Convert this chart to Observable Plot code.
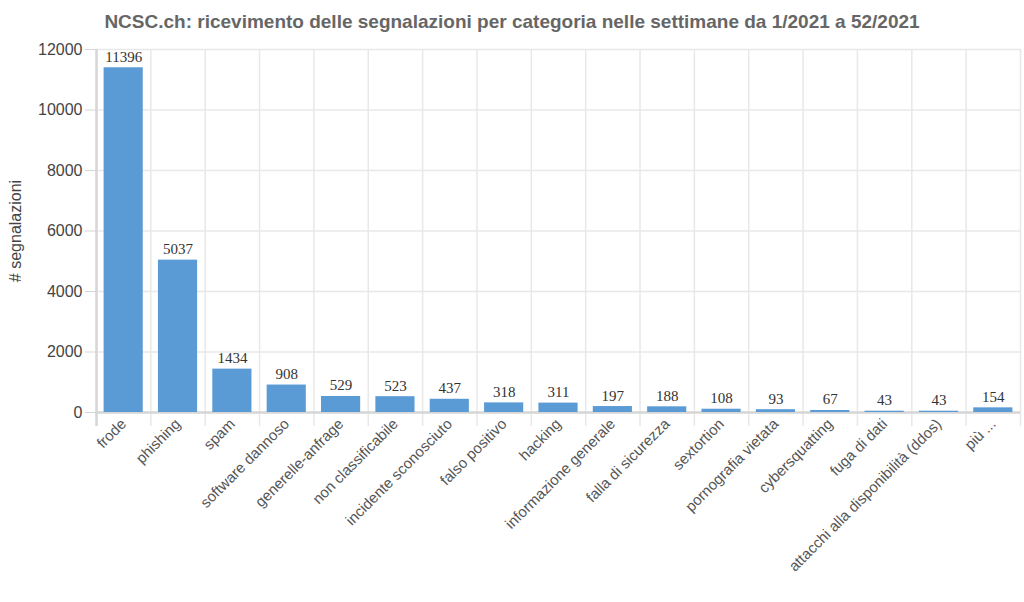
<!DOCTYPE html>
<html>
<head>
<meta charset="utf-8">
<script src="https://cdn.jsdelivr.net/npm/d3@7"></script>
<script src="https://cdn.jsdelivr.net/npm/@observablehq/plot@0.6"></script>
<style>
  html, body { margin: 0; padding: 0; background: #fff; }
  #title { height: 40px; padding-top: 4px; line-height: 36px; text-align: center; font-family: "Liberation Sans", Arial, sans-serif; font-weight: bold; font-size: 19px; color: #666; box-sizing: border-box; width: 1024px; }
</style>
</head>
<body>
<div id="title">NCSC.ch: ricevimento delle segnalazioni per categoria nelle settimane da 1/2021 a 52/2021</div>
<div id="chart"></div>
<script>
const categories = [
  "frode", "phishing", "spam", "software dannoso", "generelle-anfrage",
  "non classificabile", "incidente sconosciuto", "falso positivo", "hacking",
  "informazione generale", "falla di sicurezza", "sextortion",
  "pornografia vietata", "cybersquatting", "fuga di dati",
  "attacchi alla disponibilità (ddos)", "più ..."
];
const values = [11396, 5037, 1434, 908, 529, 523, 437, 318, 311, 197, 188, 108, 93, 67, 43, 43, 154];
const yTicks = [0, 2000, 4000, 6000, 8000, 10000, 12000];
const yLabel = "# segnalazioni";

const data = categories.map((c, i) => ({category: c, value: values[i]}));

const W = 1024, H = 562, mL = 96, mR = 4, mT = 9, mB = 190;
const bw = (W - mL - mR) / categories.length;
const gridColor = "#e8e8e8";
const axisColor = "#d6d6d6";

const chart = Plot.plot({
  width: W,
  height: H,
  marginLeft: mL,
  marginRight: mR,
  marginTop: mT,
  marginBottom: mB,
  style: {fontFamily: "'Liberation Sans', Arial, sans-serif", background: "#fff"},
  x: {type: "band", domain: categories, padding: 0, round: false},
  y: {domain: [0, 12000]},
  marks: [
    Plot.gridY(yTicks, {stroke: gridColor, strokeOpacity: 1, strokeWidth: 1.5}),
    Plot.ruleX(categories, {x: d => d, dx: -bw / 2, stroke: gridColor, strokeWidth: 1.5, insetBottom: -14}),
    Plot.ruleX([categories[categories.length - 1]], {x: d => d, dx: bw / 2, stroke: gridColor, strokeWidth: 1.5, insetBottom: -14}),
    Plot.ruleX([categories[0]], {x: d => d, dx: -bw / 2, stroke: axisColor, strokeWidth: 2.5, insetBottom: -14}),
    Plot.ruleY([0], {stroke: axisColor, strokeWidth: 2.5}),
    Plot.barY(data, {x: "category", y: "value", fill: "#5b9bd5", insetLeft: 7.6, insetRight: 7.6}),
    Plot.text(data, {x: "category", y: "value", text: d => String(d.value), dy: -6, lineAnchor: "bottom", fontFamily: "'Liberation Serif', 'Times New Roman', serif", fontSize: 15, fill: "#333"}),
    Plot.axisY({ticks: yTicks, tickFormat: d => String(d), tickSize: 11, tickPadding: 3, stroke: axisColor, fill: "#444", fontSize: 16, label: yLabel, labelAnchor: "center", labelOffset: 87, labelArrow: "none"}),
    Plot.axisX({tickRotate: -45, tickSize: 0, tickPadding: 9, fill: "#555", fontSize: 15, label: null})
  ]
});
document.getElementById("chart").appendChild(chart);
</script>
</body>
</html>
